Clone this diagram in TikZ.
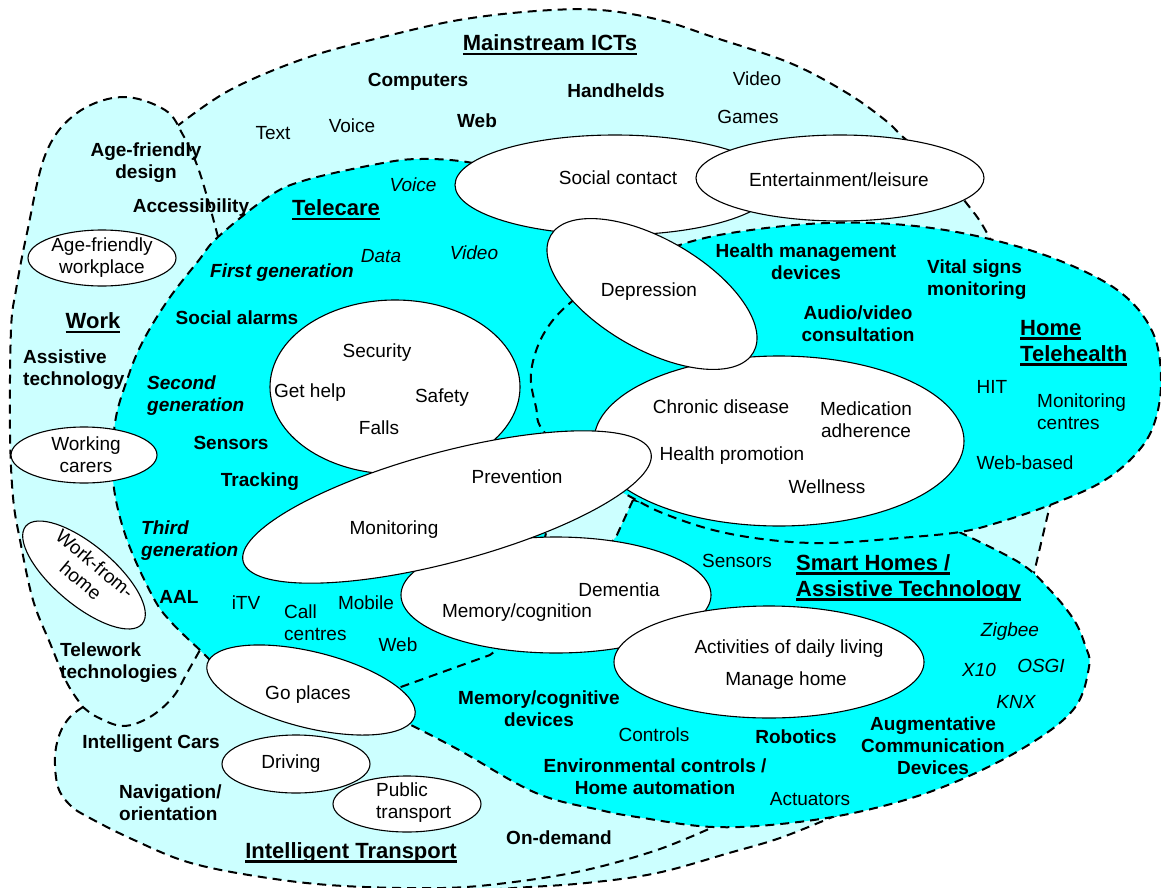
\documentclass[tikz,border=0pt]{standalone}
\usepackage{fontspec}
\setmainfont{Liberation Sans}
\usetikzlibrary{shapes.geometric}
\definecolor{pale}{HTML}{CCFFFF}
\definecolor{aqua}{HTML}{00FFFF}
\newcommand{\undr}[1]{\sbox0{#1}\rlap{\usebox0}\rule[-4pt]{\wd0}{2.2pt}}
\tikzset{
 zone/.style={fill=#1,draw=black,line width=2pt,dash pattern=on 9pt off 6pt,line join=round},
 bub/.style={ellipse,draw=black,fill=white,line width=1.1pt,inner sep=0pt},
 txt/.style={font=\fontsize{19}{22}\selectfont,inner sep=0pt,align=center},
 bld/.style={txt,font=\fontsize{19}{22}\selectfont\bfseries},
 itl/.style={txt,font=\fontsize{19}{22}\selectfont\itshape},
 bit/.style={txt,font=\fontsize{19}{22}\selectfont\bfseries\itshape},
 ttl/.style={txt,font=\fontsize{22}{26}\selectfont\bfseries}
}
\begin{document}
\begin{tikzpicture}[x=1pt,y=-1pt]
\useasboundingbox(0,0) rectangle (1161,888);
\fill[white](0,0) rectangle (1161,888);
\clip(0,0) rectangle (1161,888);
\path[zone=pale] plot[smooth,tension=.6] coordinates {(176,127) (230,90) (306,58) (383,37) (459,20) (536,11) (600,10) (660,20) (713,37) (790,63) (847,93) (885,120) (903,137) (935,165) (964,200) (989,237) (1025,320) (1045,420) (1050,505)} -- (1030,590) -- (990,700) -- (880,798) -- plot[smooth,tension=.6] coordinates {(830,818) (780,838) (729,853) (657,873) (586,883) (514,888) (443,893)} -- (370,895) -- (355,870) -- (250,820) -- (140,700) -- (60,500) -- (60,250) -- (100,130) -- cycle;
\path[zone=pale] plot[smooth,tension=.6] coordinates {(83,707) (70,717) (60,733) (55,757) (58,787) (70,805) (88,817) (134,840) (191,863) (268,878) (344,886) (443,888) (514,882) (586,870) (657,850) (711,828)} -- (650,780) -- (400,700) -- (250,660) -- (210,640) -- (120,640) -- cycle;
\path[zone=pale] plot[smooth,tension=.6] coordinates {(218,237) (208,200) (197,165) (183,135) (165,110) (122,97) (77,113) (46,153) (27,233) (16,290) (11,330) (10,430) (13,497) (20,540) (33,600) (50,643) (67,683) (83,707)} -- plot[smooth,tension=.6] coordinates {(83,707) (97,717) (123,726) (150,717) (173,697) (187,673) (200,650)} -- (205,500) -- (225,300) -- cycle;
\path[zone=aqua] plot[smooth,tension=.6] coordinates {(200,650) (172,623) (153,597) (126,537) (113,480) (115,423) (127,380) (142,343) (168,300) (199,260) (218,237) (268,197) (306,180) (383,163) (421,159) (467,162) (530,175)} -- (600,215) -- (640,290) -- (590,420) -- (560,470) -- (540,560) -- (520,640) -- (430,700) -- (330,700) -- (240,690) -- cycle;
\path[zone=aqua] (633,500) -- (616,537) -- (560,600) -- (490,655) -- (398,688) -- (390,705) -- plot[smooth,tension=.6] coordinates {(411,725) (459,750) (536,793) (600,810) (637,817) (713,827) (790,823) (867,810) (943,787) (1020,750) (1073,710) (1089,667) (1085,645) (1074,620) (1050,590) (1020,563) (959,532)} -- (850,525) -- (700,515) -- cycle;
\path[zone=aqua] plot[smooth cycle,tension=.6] coordinates {(545,433) (600,485) (623,493) (660,512) (713,530) (770,540) (828,543) (900,538) (960,532) (1000,522) (1050,505) (1100,483) (1133,457) (1153,427) (1161,383) (1153,333) (1120,292) (1058,260) (981,237) (905,225) (828,223) (751,230) (686,243) (620,270) (570,303) (543,335) (531,373) (536,407)};

\node[bub,minimum width=250,minimum height=174](sec) at (395,387){};
\node[bub,minimum width=320,minimum height=100](soc) at (615,185){};
\node[bub,minimum width=288,minimum height=86](ent) at (840,178){};
\node[bub,minimum width=370,minimum height=170](chr) at (779,441){};
\node[bub,minimum width=234,minimum height=110,rotate=-30](dep) at (652,294){};
\node[bub,minimum width=310,minimum height=116](mem) at (556,595){};
\node[bub,minimum width=422,minimum height=110,rotate=15](prev) at (447,507){};
\node[bub,minimum width=310,minimum height=112](adl) at (769,662){};
\node[bub,minimum width=214,minimum height=76,rotate=-14](go) at (311,690){};
\node[bub,minimum width=148,minimum height=58](drv) at (296,764){};
\node[bub,minimum width=148,minimum height=56](pub) at (407,804){};
\node[bub,minimum width=148,minimum height=56](afw) at (102,258){};
\node[bub,minimum width=146,minimum height=56](crs) at (84,455){};
\node[bub,minimum width=152,minimum height=60,rotate=-40](wfh) at (84,575){};

\node[ttl](mict) at (550,45){\undr{Mainstream ICTs}};
\node[bld](cmp) at (418,82){Computers};
\node[bld](hnd) at (616,91){Handhelds};
\node[txt](vid1) at (757,79){Video};
\node[txt](gam) at (748,117){Games};
\node[txt](tex) at (273,133){Text};
\node[txt](voi1) at (352,126){Voice};
\node[bld](web1) at (477,121){Web};
\node[bld](afd) at (146,163){Age-friendly\\design};
\node[bld](acc) at (191,208){Accessibility};
\node[txt](soct) at (618,178){Social contact};
\node[txt](entt) at (839,180){Entertainment/leisure};
\node[txt](dept) at (649,292){Depression};

\node[txt](afwt) at (102,258){Age-friendly\\workplace};
\node[ttl](wrk) at (93,323){\undr{Work}};
\node[bld,anchor=west,align=left](ast) at (23,370){Assistive\\technology};
\node[txt](crst) at (86,455){Working\\carers};
\node[txt,rotate=-40](wfht) at (88,572){Work-from-\\home};
\node[bld,anchor=west,align=left](tlw) at (60,663){Telework\\technologies};

\node[ttl](tc) at (336,210){\undr{Telecare}};
\node[itl](voi2) at (413,185){Voice};
\node[itl](dat) at (381,256){Data};
\node[itl](vid2) at (474,253){Video};
\node[bit](g1) at (282,273){First generation};
\node[bld](alm) at (237,318){Social alarms};
\node[bit,anchor=west,align=left](g2) at (147,396){Second\\generation};
\node[bld](sns1) at (231,443){Sensors};
\node[bld](trk) at (260,482){Tracking};
\node[bit,anchor=west,align=left](g3) at (141,541){Third\\generation};
\node[bld](aal) at (179,597){AAL};
\node[txt](itv) at (246,603){iTV};
\node[txt,anchor=west,align=left](cc) at (284,623){Call\\centres};
\node[txt](mob) at (366,603){Mobile};
\node[txt](web2) at (398,645){Web};
\node[txt](secu) at (377,353){Security};
\node[txt](gh) at (310,393){Get help};
\node[txt](saf) at (442,398){Safety};
\node[txt](fal) at (379,428){Falls};
\node[txt](prv) at (517,477){Prevention};
\node[txt](mon) at (394,530){Monitoring};

\node[bld](hmd) at (806,262){Health management\\devices};
\node[bld,anchor=west,align=left](vsm) at (927,280){Vital signs\\monitoring};
\node[bld](avc) at (858,324){Audio/video\\consultation};
\node[ttl,anchor=west,align=left](ht) at (1020,343){\undr{Home}\\\undr{Telehealth}};
\node[txt](hit) at (992,387){HIT};
\node[txt,anchor=west,align=left](mc) at (1037,412){Monitoring\\centres};
\node[txt](wb) at (1025,463){Web-based};
\node[txt](chd) at (721,407){Chronic disease};
\node[txt](med) at (866,420){Medication\\adherence};
\node[txt](hp) at (732,456){Health promotion};
\node[txt](wel) at (827,487){Wellness};

\node[txt](sns2) at (737,561){Sensors};
\node[ttl,anchor=west,align=left](sh) at (796,578){\undr{Smart Homes /}\\\undr{Assistive Technology}};
\node[txt](dem) at (619,590){Dementia};
\node[txt](mcg) at (517,613){Memory/cognition};
\node[txt](adlt) at (789,649){Activities of daily living};
\node[txt](mh) at (786,681){Manage home};
\node[itl](zig) at (1010,632){Zigbee};
\node[itl](x10) at (979,670){X10};
\node[itl](osg) at (1041,666){OSGI};
\node[itl](knx) at (1016,702){KNX};
\node[bld](aug) at (933,746){Augmentative\\Communication\\Devices};
\node[bld](mcd) at (539,709){Memory/cognitive\\devices};
\node[txt](ctl) at (654,735){Controls};
\node[bld](rob) at (796,737){Robotics};
\node[bld](env) at (655,777){Environmental controls /\\Home automation};
\node[txt](act) at (810,799){Actuators};

\node[txt](got) at (308,695){Go places};
\node[txt](drvt) at (291,764){Driving};
\node[txt,anchor=west,align=left](pubt) at (376,803){Public\\transport};
\node[bld](car) at (151,744){Intelligent Cars};
\node[bld,anchor=west,align=left](nav) at (119,803){Navigation/\\orientation};
\node[bld](ond) at (559,838){On-demand};
\node[ttl](it) at (351,853){\undr{Intelligent Transport}};
\end{tikzpicture}
\end{document}
